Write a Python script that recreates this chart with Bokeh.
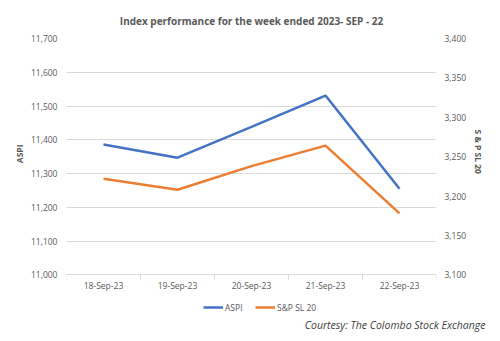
from bokeh.plotting import figure
from bokeh.models import (Range1d, LinearAxis, FixedTicker, NumeralTickFormatter,
                          Legend, LegendItem, Title, ColumnDataSource)
from bokeh.core.properties import value
from bokeh.embed import file_html
from bokeh.resources import INLINE

dates = ["18-Sep-23", "19-Sep-23", "20-Sep-23", "21-Sep-23", "22-Sep-23"]
aspi = [11386, 11347, 11438, 11531, 11255]
snp = [3222, 3208, 3238, 3264, 3178]
left_ticks = [11000, 11100, 11200, 11300, 11400, 11500, 11600, 11700]
right_ticks = [3100, 3150, 3200, 3250, 3300, 3350, 3400]

BLUE = "#4472C4"
ORANGE = "#ED7D31"
GREY = "#595959"
GRID = "#d9d9d9"
FONT = "Open Sans"
TICK_FS = "8.5px"

# layout constants (pixels)
AXIS_PX = 238      # height between lowest and highest tick
EXTRA_PX = 43      # frame space kept below the lowest tick for axis labels + legend
TICK_PX = 5

l_span = left_ticks[-1] - left_ticks[0]
r_span = right_ticks[-1] - right_ticks[0]
l_lo = left_ticks[0] - l_span * EXTRA_PX / AXIS_PX
r_lo = right_ticks[0] - r_span * EXTRA_PX / AXIS_PX
tick_len = l_span * TICK_PX / AXIS_PX

xs = list(range(len(dates)))
src = ColumnDataSource(dict(x=xs, aspi=aspi, snp=snp))

p = figure(width=500, height=341, output_backend="svg", toolbar_location=None,
           x_range=Range1d(-0.5, len(dates) - 0.5),
           y_range=Range1d(l_lo, left_ticks[-1]),
           x_axis_location=None,
           min_border_left=66, min_border_right=64, min_border_top=36,
           min_border_bottom=24)
p.outline_line_color = None
p.background_fill_color = "white"
p.border_fill_color = "white"

p.extra_y_ranges = {"snp": Range1d(r_lo, right_ticks[-1])}

# Title
p.title.text = "Index performance for the week ended 2023- SEP - 22"
p.title.align = "center"
p.title.text_font = FONT
p.title.text_font_size = "10px"
p.title.text_font_style = "bold"
p.title.text_color = GREY
p.title.standoff = 22

# Left axis
ya = p.yaxis[0]
ya.ticker = FixedTicker(ticks=left_ticks)
ya.formatter = NumeralTickFormatter(format="0,0")
ya.axis_line_color = None
ya.major_tick_line_color = None
ya.major_tick_out = 0
ya.major_tick_in = 0
ya.minor_tick_line_color = None
ya.major_label_text_font = FONT
ya.major_label_text_font_size = TICK_FS
ya.major_label_text_color = GREY
ya.major_label_standoff = 9

# Right axis
ra = LinearAxis(y_range_name="snp", ticker=FixedTicker(ticks=right_ticks),
                formatter=NumeralTickFormatter(format="0,0"))
ra.axis_line_color = None
ra.major_tick_line_color = None
ra.major_tick_out = 0
ra.major_tick_in = 0
ra.minor_tick_line_color = None
ra.major_label_text_font = FONT
ra.major_label_text_font_size = TICK_FS
ra.major_label_text_color = GREY
ra.major_label_standoff = 8
p.add_layout(ra, "right")

# Axis titles (placed beside the tick area)
left_title = Title(text="ASPI", align="right", offset=106, standoff=6,
                   text_font=FONT, text_font_size="8.5px", text_font_style="bold",
                   text_color=GREY)
p.add_layout(left_title, "left")
right_title = Title(text="S & P SL 20", align="left", offset=91, standoff=6,
                    text_font=FONT, text_font_size="8.5px", text_font_style="bold",
                    text_color=GREY)
p.add_layout(right_title, "right")

p.xgrid.grid_line_color = None
p.ygrid.grid_line_color = GRID
p.ygrid.grid_line_width = 1

# Category axis: boundary ticks and labels
bounds = [i - 0.5 for i in range(len(dates) + 1)]
p.segment(x0=bounds, y0=[left_ticks[0]] * len(bounds),
          x1=bounds, y1=[left_ticks[0] - tick_len] * len(bounds),
          line_color=GRID, line_width=1)
p.text(x=xs, y=[left_ticks[0]] * len(xs), text=dates, y_offset=5,
       text_align="center", text_baseline="top",
       text_font=value(FONT), text_font_size=TICK_FS, text_color=GREY)

r1 = p.line("x", "aspi", source=src, line_color=BLUE, line_width=2.5)
r2 = p.line("x", "snp", source=src, line_color=ORANGE, line_width=2.5, y_range_name="snp")

legend = Legend(items=[LegendItem(label="ASPI", renderers=[r1]),
                       LegendItem(label="S&P SL 20", renderers=[r2])],
                orientation="horizontal", location=(137, 4))
legend.label_text_font = FONT
legend.label_text_font_size = "8.5px"
legend.label_text_color = GREY
legend.label_height = 12
legend.glyph_width = 20
legend.glyph_height = 10
legend.label_standoff = 2
legend.spacing = 10
legend.padding = 2
legend.margin = 0
legend.border_line_color = None
legend.background_fill_alpha = 0
p.add_layout(legend, "center")

cred = Title(text="Courtesy: The Colombo Stock Exchange", align="right",
             vertical_align="top", offset=-49, standoff=0,
             text_font=FONT, text_font_size="10.5px", text_font_style="italic",
             text_color="#404040")
p.add_layout(cred, "below")

open("out.html", "w").write(file_html(p, INLINE))
